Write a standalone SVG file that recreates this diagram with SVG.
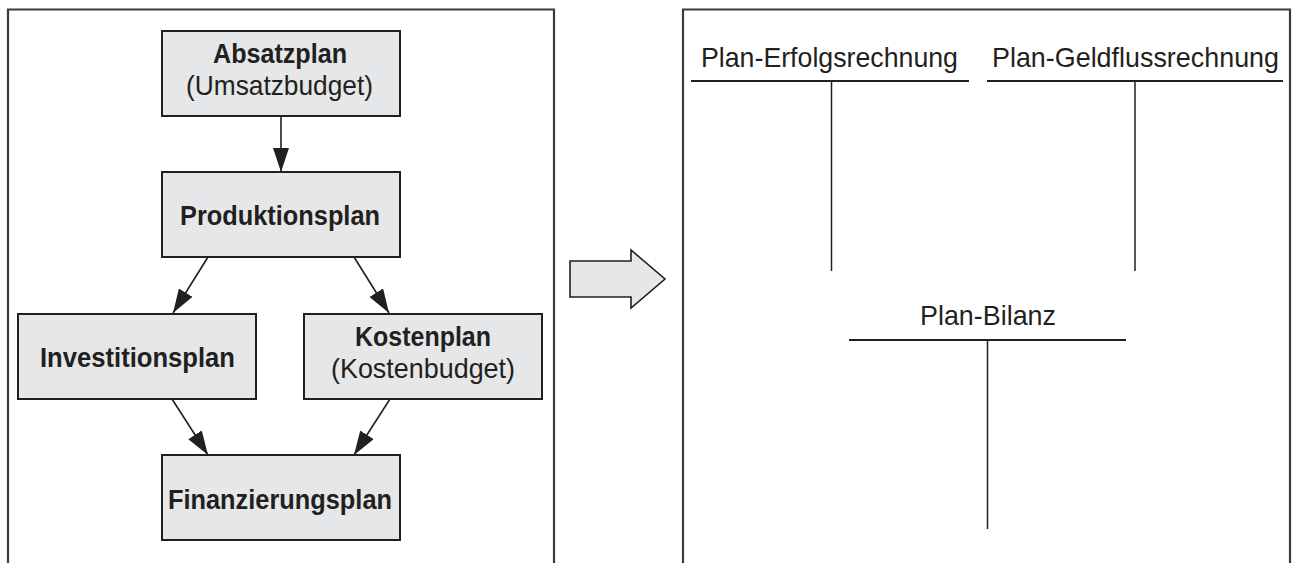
<svg xmlns="http://www.w3.org/2000/svg" width="1292" height="563" viewBox="0 0 1292 563">
<defs>
<style>
.frame{fill:none;stroke:#3d3b3c;stroke-width:2.2}
.box{fill:#e6e7e8;stroke:#231f20;stroke-width:2}
.b{font-family:"Liberation Sans",Arial,sans-serif;font-weight:bold;font-size:28.5px;fill:#231f20}
.r{font-family:"Liberation Sans",Arial,sans-serif;font-size:28px;fill:#231f20}
.con{stroke:#231f20;stroke-width:1.6;fill:none;marker-end:url(#ah)}
.t{stroke:#231f20;fill:none}
</style>
<marker id="ah" markerUnits="userSpaceOnUse" markerWidth="26" markerHeight="18" refX="24" refY="8" orient="auto">
<path d="M0,0 L24,8 L0,16 z" fill="#231f20"/>
</marker>
</defs>
<rect width="1292" height="563" fill="#ffffff"/>
<g id="frames">
<path class="frame" d="M8,563 V9.5 H554 V563"/>
<path class="frame" d="M683,563 V9.5 H1290 V563"/>
</g>
<g id="connectors">
<line class="con" x1="281" y1="116" x2="281" y2="172"/>
<line class="con" x1="208" y1="257" x2="173" y2="313"/>
<line class="con" x1="354" y1="257" x2="389" y2="313"/>
<line class="con" x1="172" y1="399" x2="208" y2="455"/>
<line class="con" x1="390" y1="399" x2="354" y2="455"/>
</g>
<g id="absatzplan">
<rect class="box" x="162" y="31" width="238" height="85"/>
<text class="b" x="213" y="63" textLength="134" lengthAdjust="spacingAndGlyphs">Absatzplan</text>
<text class="r" x="186" y="95" textLength="187" lengthAdjust="spacingAndGlyphs">(Umsatzbudget)</text>
</g>
<g id="produktionsplan">
<rect class="box" x="162" y="172" width="238" height="85"/>
<text class="b" x="180" y="225" textLength="200" lengthAdjust="spacingAndGlyphs">Produktionsplan</text>
</g>
<g id="investitionsplan">
<rect class="box" x="18" y="314" width="238" height="85"/>
<text class="b" x="40" y="367" textLength="195" lengthAdjust="spacingAndGlyphs">Investitionsplan</text>
</g>
<g id="kostenplan">
<rect class="box" x="304" y="314" width="238" height="85"/>
<text class="b" x="355" y="346" textLength="136" lengthAdjust="spacingAndGlyphs">Kostenplan</text>
<text class="r" x="331" y="378" textLength="184" lengthAdjust="spacingAndGlyphs">(Kostenbudget)</text>
</g>
<g id="finanzierungsplan">
<rect class="box" x="162" y="455" width="238" height="85"/>
<text class="b" x="168" y="509" textLength="224" lengthAdjust="spacingAndGlyphs">Finanzierungsplan</text>
</g>
<g id="block-arrow">
<polygon points="570,261 631,261 631,250 665,279 631,308 631,297 570,297" fill="#e6e7e8" stroke="#231f20" stroke-width="1.6"/>
</g>
<g id="plan-erfolgsrechnung">
<text class="r" x="701" y="67" textLength="257" lengthAdjust="spacingAndGlyphs">Plan-Erfolgsrechnung</text>
<line class="t" x1="691" y1="81" x2="969" y2="81" stroke-width="2"/>
<line class="t" x1="831.5" y1="81" x2="831.5" y2="271" stroke-width="1.5"/>
</g>
<g id="plan-geldflussrechnung">
<text class="r" x="992" y="67" textLength="287" lengthAdjust="spacingAndGlyphs">Plan-Geldflussrechnung</text>
<line class="t" x1="987" y1="81" x2="1283" y2="81" stroke-width="2"/>
<line class="t" x1="1135" y1="81" x2="1135" y2="271" stroke-width="1.5"/>
</g>
<g id="plan-bilanz">
<text class="r" x="920" y="325" textLength="136" lengthAdjust="spacingAndGlyphs">Plan-Bilanz</text>
<line class="t" x1="849" y1="340" x2="1126" y2="340" stroke-width="2"/>
<line class="t" x1="987.5" y1="340" x2="987.5" y2="529" stroke-width="1.5"/>
</g>
</svg>
